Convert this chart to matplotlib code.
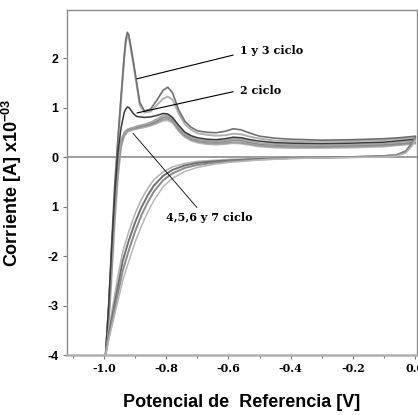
# Voltametría cíclica - ciclos 1 a 7
import numpy as np
import matplotlib
matplotlib.use('Agg')
import matplotlib.pyplot as plt
from matplotlib.ticker import FixedLocator, FixedFormatter, MultipleLocator

# Barrido anódico (potencial en V, corriente en A x10^-3)
E_ida = [-0.995, -0.985, -0.975, -0.965, -0.955, -0.945, -0.935, -0.93, -0.925, -0.92,
         -0.915, -0.905, -0.895, -0.885, -0.87, -0.85, -0.83, -0.81, -0.795, -0.78,
         -0.76, -0.74, -0.72, -0.70, -0.67, -0.64, -0.61, -0.585, -0.56, -0.53,
         -0.50, -0.45, -0.40, -0.30, -0.20, -0.10, -0.05, 0.0]

ciclo1 = [-4.0, -3.0, -1.7, -0.5, 0.4, 1.25, 2.05, 2.38, 2.52, 2.46,
          2.28, 1.9, 1.5, 1.1, 0.93, 0.97, 1.15, 1.35, 1.41, 1.3,
          0.95, 0.72, 0.6, 0.53, 0.5, 0.49, 0.52, 0.57, 0.55, 0.48,
          0.42, 0.38, 0.36, 0.34, 0.35, 0.37, 0.39, 0.42]
ciclo3 = [-4.0, -3.1, -1.9, -0.7, 0.3, 1.15, 2.0, 2.3, 2.45, 2.4,
          2.22, 1.85, 1.45, 1.05, 0.9, 0.92, 1.05, 1.18, 1.22, 1.16,
          0.88, 0.66, 0.55, 0.48, 0.45, 0.43, 0.44, 0.47, 0.46, 0.41,
          0.37, 0.33, 0.32, 0.31, 0.32, 0.34, 0.37, 0.40]
ciclo2 = [-4.0, -3.0, -1.8, -0.7, 0.1, 0.6, 0.9, 0.97, 1.01, 1.0,
          0.96, 0.87, 0.82, 0.81, 0.8, 0.81, 0.84, 0.88, 0.87, 0.8,
          0.64, 0.5, 0.43, 0.39, 0.36, 0.35, 0.37, 0.4, 0.39, 0.35,
          0.32, 0.29, 0.28, 0.27, 0.28, 0.3, 0.33, 0.36]
ciclo4 = [-4.0, -3.2, -2.1, -1.0, -0.2, 0.3, 0.48, 0.52, 0.55, 0.56,
          0.57, 0.59, 0.6, 0.62, 0.64, 0.67, 0.73, 0.8, 0.81, 0.75,
          0.58, 0.45, 0.38, 0.34, 0.31, 0.3, 0.31, 0.34, 0.33, 0.29,
          0.26, 0.24, 0.23, 0.22, 0.23, 0.25, 0.27, 0.30]
ciclo5 = [-4.0, -3.3, -2.2, -1.1, -0.3, 0.25, 0.45, 0.49, 0.52, 0.54,
          0.55, 0.57, 0.58, 0.6, 0.62, 0.65, 0.7, 0.76, 0.77, 0.72,
          0.55, 0.42, 0.35, 0.31, 0.28, 0.27, 0.28, 0.3, 0.29, 0.26,
          0.23, 0.21, 0.2, 0.2, 0.21, 0.23, 0.25, 0.28]
ciclo6 = [-4.0, -3.1, -2.0, -0.9, -0.1, 0.35, 0.5, 0.53, 0.56, 0.57,
          0.58, 0.6, 0.62, 0.64, 0.66, 0.7, 0.77, 0.84, 0.85, 0.78,
          0.6, 0.47, 0.4, 0.36, 0.33, 0.32, 0.34, 0.37, 0.36, 0.32,
          0.28, 0.26, 0.25, 0.24, 0.25, 0.27, 0.30, 0.33]
ciclo7 = [-4.0, -3.4, -2.4, -1.3, -0.4, 0.2, 0.42, 0.46, 0.5, 0.52,
          0.53, 0.55, 0.57, 0.58, 0.6, 0.63, 0.68, 0.73, 0.74, 0.69,
          0.52, 0.4, 0.33, 0.29, 0.26, 0.25, 0.26, 0.28, 0.27, 0.24,
          0.21, 0.19, 0.18, 0.18, 0.19, 0.21, 0.24, 0.27]

# Barrido catódico (regreso)
E_vuelta = [0.0, -0.01, -0.03, -0.06, -0.10, -0.20, -0.30, -0.40, -0.50, -0.60,
            -0.65, -0.70, -0.74, -0.78, -0.81, -0.84, -0.86, -0.88, -0.90, -0.92,
            -0.94, -0.955, -0.97, -0.985, -0.995]

vuelta_a = [0.35, 0.25, 0.10, 0.03, 0.01, 0.0, -0.01, -0.015, -0.03, -0.05,
            -0.07, -0.09, -0.13, -0.2, -0.3, -0.46, -0.64, -0.86, -1.14, -1.5,
            -1.92, -2.4, -2.95, -3.5, -4.0]
vuelta_b = [0.40, 0.28, 0.12, 0.04, 0.02, 0.0, -0.01, -0.02, -0.04, -0.07,
            -0.09, -0.12, -0.17, -0.26, -0.38, -0.58, -0.78, -1.02, -1.32, -1.68,
            -2.1, -2.6, -3.1, -3.6, -4.0]
vuelta_c = [0.38, 0.27, 0.11, 0.04, 0.02, 0.0, -0.01, -0.025, -0.05, -0.09,
            -0.12, -0.16, -0.22, -0.33, -0.47, -0.7, -0.92, -1.18, -1.5, -1.88,
            -2.3, -2.75, -3.2, -3.65, -4.0]
vuelta_d = [0.33, 0.22, 0.08, 0.02, 0.0, -0.01, -0.02, -0.03, -0.06, -0.11,
            -0.15, -0.21, -0.29, -0.43, -0.6, -0.88, -1.12, -1.4, -1.72, -2.1,
            -2.5, -2.9, -3.3, -3.7, -4.0]

y_ticks = [-4, -3, -2, -1, 0, 1, 2]
y_labels = ['-4', '-3', '-2', '1', '0', '1', '2']
x_ticks = [-1.0, -0.8, -0.6, -0.4, -0.2, 0.0]
x_labels = ['-1.0', '-0.8', '-0.6', '-0.4', '-0.2', '0.0']

plt.rcParams['mathtext.fontset'] = 'custom'
plt.rcParams['mathtext.bf'] = 'Liberation Sans:bold'
plt.rcParams['mathtext.rm'] = 'Liberation Sans:bold'

fig = plt.figure(figsize=(4.18, 4.15), dpi=100)
ax = fig.add_axes([67/418, 1 - 355/415, 350/418, 345/415])

# Curvas
ax.plot(E_ida, ciclo3, color='#b0b0b0', lw=1.4)
ax.plot(E_ida, ciclo1, color='#707070', lw=1.2)
ax.plot(E_ida, ciclo7, color='#b8b8b8', lw=1.3)
ax.plot(E_ida, ciclo5, color='#9a9a9a', lw=1.3)
ax.plot(E_ida, ciclo4, color='#8a8a8a', lw=1.2)
ax.plot(E_ida, ciclo6, color='#a5a5a5', lw=1.2)
ax.plot(E_ida, ciclo2, color='#3a3a3a', lw=1.1)

ax.plot(E_vuelta, vuelta_a, color='#b5b5b5', lw=1.2)
ax.plot(E_vuelta, vuelta_b, color='#707070', lw=1.4)
ax.plot(E_vuelta, vuelta_c, color='#8a8a8a', lw=1.4)
ax.plot(E_vuelta, vuelta_d, color='#b8b8b8', lw=1.1)

ax.axhline(0, color='#8c8c8c', lw=1.2, zorder=0)

# Etiquetas de los ciclos
fuente_txt = dict(family='DejaVu Serif', weight='bold', size=8)
ax.annotate('1 y 3 ciclo', xy=(-0.894, 1.58), xytext=(-0.563, 2.16),
            ha='left', va='center', **fuente_txt,
            arrowprops=dict(arrowstyle='-', color='black', lw=0.8,
                            relpos=(0.0, 0.2), shrinkA=3, shrinkB=0))
ax.annotate('2 ciclo', xy=(-0.894, 0.89), xytext=(-0.563, 1.35),
            ha='left', va='center', **fuente_txt,
            arrowprops=dict(arrowstyle='-', color='black', lw=0.8,
                            relpos=(0.0, 0.5), shrinkA=3, shrinkB=0))
ax.annotate('4,5,6 y 7 ciclo', xy=(-0.907, 0.48), xytext=(-0.66, -1.23),
            ha='center', va='center', **fuente_txt,
            arrowprops=dict(arrowstyle='-', color='black', lw=0.6,
                            relpos=(0.4, 1.0), shrinkA=2, shrinkB=0))

ax.set_xlim(-1.119, 0.006)
ax.set_ylim(-4, 2.97)

ax.yaxis.set_major_locator(FixedLocator(y_ticks))
ax.yaxis.set_major_formatter(FixedFormatter(y_labels))
ax.xaxis.set_major_locator(FixedLocator(x_ticks))
ax.xaxis.set_major_formatter(FixedFormatter(x_labels))
ax.xaxis.set_minor_locator(MultipleLocator(0.1))

ax.tick_params(axis='both', which='both', direction='out', length=3,
               width=0.8, color='#777777', pad=3)
ax.tick_params(axis='x', which='minor', length=2)
for lab in ax.get_yticklabels():
    lab.set_fontfamily('Liberation Sans')
    lab.set_fontweight('bold')
    lab.set_fontsize(9)
for lab in ax.get_xticklabels():
    lab.set_fontfamily('DejaVu Serif')
    lab.set_fontweight('bold')
    lab.set_fontsize(8)

for lado in ['left', 'right', 'top']:
    ax.spines[lado].set_color('#8c8c8c')
    ax.spines[lado].set_linewidth(1.0)
ax.spines['bottom'].set_color('#b0b0b0')
ax.spines['bottom'].set_linewidth(1.8)

ax.set_xlabel('Potencial de  Referencia [V]', fontfamily='Liberation Sans',
              fontweight='bold', fontsize=13, labelpad=14)
ax.set_ylabel('Corriente [A] x10$^{\\mathbf{-03}}$', fontfamily='Liberation Sans',
              fontweight='bold', fontsize=13)
ax.yaxis.set_label_coords(-0.122, 0.5)

fig.savefig('out.png', dpi=100)
